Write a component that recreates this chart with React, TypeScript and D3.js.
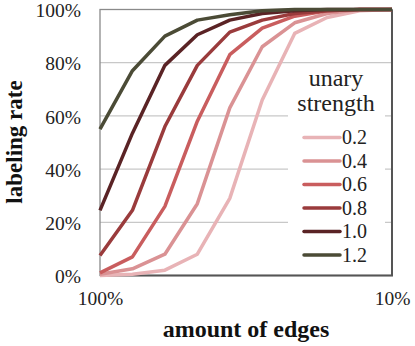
import { useEffect, useRef } from 'react';
import * as d3 from 'd3';

const categories = ['100%', '90%', '80%', '70%', '60%', '50%', '40%', '30%', '20%', '10%'];
const strengths = ['0.2', '0.4', '0.6', '0.8', '1.0', '1.2'];
const colors = ['#e8b3b6', '#da9294', '#c95d5e', '#9a3b3c', '#5a2325', '#4b4b36'];

const s02 = [0, 0.5, 2, 8, 29, 66, 91, 97, 99.5, 100];
const s04 = [0.5, 2.5, 8, 27, 63, 86, 95, 98.5, 100, 100];
const s06 = [1, 7, 26, 58, 83, 93, 97.5, 99.5, 100, 100];
const s08 = [7.5, 24.5, 56, 79, 91.5, 96, 98.5, 99.5, 100, 100];
const s10 = [24.5, 53.5, 79, 90.5, 96, 98.5, 99.5, 100, 100, 100];
const s12 = [55, 77, 90, 96, 98, 99.5, 100, 100, 100, 100];
const series = [s02, s04, s06, s08, s10, s12];

const yTicks = [0, 20, 40, 60, 80, 100];
const xTickLabels = ['100%', '10%'];

export default function App() {
  const svgRef = useRef(null);

  useEffect(() => {
    const svg = d3.select(svgRef.current);
    const width = 415;
    const height = 346;
    const margin = { top: 9.5, right: 23, bottom: 70.5, left: 100 };
    const font = '"Liberation Serif", "Times New Roman", serif';

    svg.attr('width', width).attr('height', height);
    svg.selectAll('*').remove();

    const x = d3
      .scalePoint()
      .domain(categories)
      .range([margin.left, width - margin.right]);
    const y = d3
      .scaleLinear()
      .domain([0, 100])
      .range([height - margin.bottom, margin.top]);

    // gridlines
    svg
      .append('g')
      .selectAll('line')
      .data(yTicks.filter((d) => d > 0 && d < 100))
      .join('line')
      .attr('x1', margin.left)
      .attr('x2', width - margin.right)
      .attr('y1', (d) => y(d))
      .attr('y2', (d) => y(d))
      .attr('stroke', '#c8c8c8')
      .attr('stroke-width', 1.3);

    // frame
    svg
      .append('rect')
      .attr('x', margin.left)
      .attr('y', margin.top)
      .attr('width', width - margin.right - margin.left)
      .attr('height', height - margin.bottom - margin.top)
      .attr('fill', 'none')
      .attr('stroke', '#8a8a8a')
      .attr('stroke-width', 1.3);
    svg
      .append('path')
      .attr('d', `M${margin.left},${y(0)}H${width - margin.right}V${margin.top}`)
      .attr('fill', 'none')
      .attr('stroke', '#555')
      .attr('stroke-width', 2);

    // legend background (covers gridlines)
    svg
      .append('rect')
      .attr('x', 288)
      .attr('y', 66)
      .attr('width', 97)
      .attr('height', 202)
      .attr('fill', '#fff');

    const line = d3
      .line()
      .x((d, i) => x(categories[i]))
      .y((d) => y(d));

    svg
      .append('g')
      .selectAll('path')
      .data(series)
      .join('path')
      .attr('d', (d) => line(d))
      .attr('fill', 'none')
      .attr('stroke', (d, i) => colors[i])
      .attr('stroke-width', 3.5)
      .attr('stroke-linejoin', 'round');

    // y axis labels
    const yAxis = svg
      .append('g')
      .attr('transform', `translate(${margin.left - 19},0)`)
      .call(
        d3
          .axisLeft(y)
          .tickValues(yTicks)
          .tickSize(0)
          .tickPadding(0)
          .tickFormat((d) => `${d}%`)
      );
    yAxis.select('.domain').remove();
    yAxis
      .selectAll('text')
      .attr('font-family', font)
      .attr('font-size', 19.5)
      .attr('fill', '#222')
      .attr('dy', '0.37em');

    // x axis labels
    const xAxis = svg
      .append('g')
      .attr('transform', `translate(0,${y(0) + 16})`)
      .call(d3.axisBottom(x).tickValues(xTickLabels).tickSize(0).tickPadding(0));
    xAxis.select('.domain').remove();
    xAxis
      .selectAll('text')
      .attr('font-family', font)
      .attr('font-size', 19.5)
      .attr('fill', '#222');

    // titles
    svg
      .append('text')
      .attr('x', 246)
      .attr('y', 337)
      .attr('text-anchor', 'middle')
      .attr('font-family', font)
      .attr('font-weight', 'bold')
      .attr('font-size', 24)
      .attr('fill', '#111')
      .text('amount of edges');
    svg
      .append('text')
      .attr('transform', 'translate(22,142) rotate(-90)')
      .attr('text-anchor', 'middle')
      .attr('font-family', font)
      .attr('font-weight', 'bold')
      .attr('font-size', 23)
      .attr('fill', '#111')
      .text('labeling rate');

    // legend
    const legend = svg.append('g');
    legend
      .append('text')
      .attr('x', 336)
      .attr('y', 86)
      .attr('text-anchor', 'middle')
      .attr('font-family', font)
      .attr('font-size', 24)
      .attr('fill', '#222')
      .text('unary');
    legend
      .append('text')
      .attr('x', 336)
      .attr('y', 111)
      .attr('text-anchor', 'middle')
      .attr('font-family', font)
      .attr('font-size', 24)
      .attr('fill', '#222')
      .text('strength');

    const ly = d3
      .scalePoint()
      .domain(strengths)
      .range([137.5, 255]);
    const items = legend
      .selectAll('g.item')
      .data(strengths)
      .join('g')
      .attr('class', 'item')
      .attr('transform', (d) => `translate(0,${ly(d)})`);
    items
      .append('line')
      .attr('x1', 304)
      .attr('x2', 340)
      .attr('stroke', (d, i) => colors[i])
      .attr('stroke-width', 3.5)
      .attr('stroke-linecap', 'round');
    items
      .append('text')
      .attr('x', 342)
      .attr('dy', '0.34em')
      .attr('font-family', font)
      .attr('font-size', 20)
      .attr('fill', '#222')
      .text((d) => d);
  }, []);

  return (
    <svg
      ref={svgRef}
      style={{ position: 'absolute', left: 0, top: 0, background: '#fff' }}
    ></svg>
  );
}
